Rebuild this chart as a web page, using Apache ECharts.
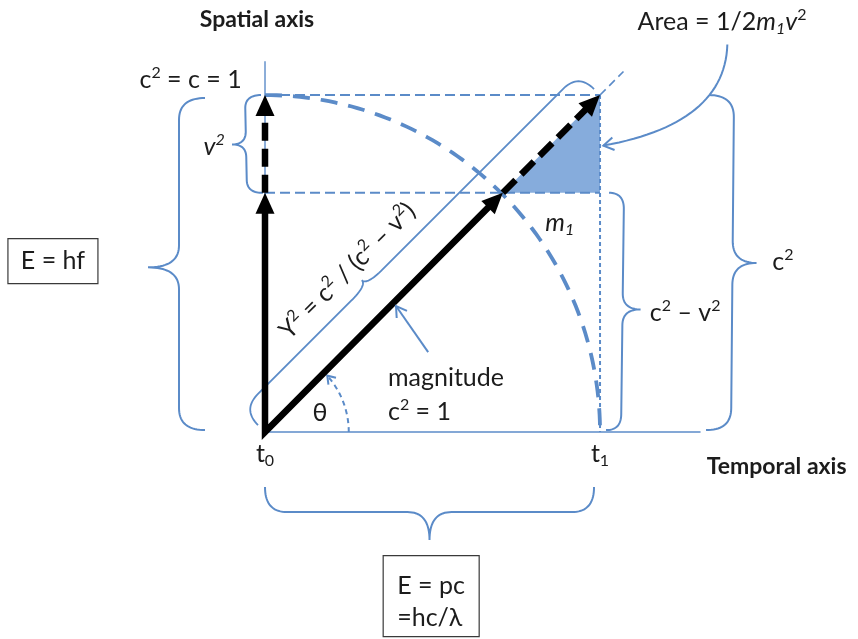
<!DOCTYPE html>
<html><head><meta charset="utf-8">
<script src="https://cdn.jsdelivr.net/npm/echarts@6/dist/echarts.min.js"></script>
<style>html,body{margin:0;padding:0;background:#fff}#main{width:858px;height:639px}</style>
</head><body><div id="main"></div>
<script>
// ---------------- diagram values (units: c = c² = 1) ----------------
const c2 = 1;                       // magnitude c² = c = 1
const v2 = 0.29;                    // v² (spatial share)
const tickValues = [0, 1];          // t0, t1 on the temporal axis
const tickLabels = ['t₀', 't₁'];
const axisTitles = ['Temporal axis', 'Spatial axis'];
const thetaRadius = 0.25;           // radius of the θ arc
const thetaAngle = 42;              // degrees swept by the θ arc

// ---------------- styling ----------------
const BLUE = '#5b8bc8';
const FILL = '#86acdc';
const INK = '#1c1c1c';
const FONT = 'Lato, "Noto Sans", "DejaVu Sans", sans-serif';
const level = c2 - v2;              // c² − v²

function line(a, b, s) {
  return { type: 'line', shape: { x1: a[0], y1: a[1], x2: b[0], y2: b[1] },
    style: Object.assign({ stroke: BLUE, lineWidth: 1.5, fill: 'none' }, s) };
}
function poly(pts, s) {
  return { type: 'polyline', shape: { points: pts },
    style: Object.assign({ stroke: BLUE, lineWidth: 2, fill: 'none' }, s) };
}
function quad(p0, c, p1, n) {
  n = n || 18; const out = [];
  for (let i = 1; i <= n; i++) {
    const t = i / n, a = (1 - t) * (1 - t), b = 2 * (1 - t) * t, d = t * t;
    out.push([a * p0[0] + b * c[0] + d * p1[0], a * p0[1] + b * c[1] + d * p1[1]]);
  }
  return out;
}
function brace(A, B, hint, d, tip, tf, q) {
  const dx = B[0] - A[0], dy = B[1] - A[1], L = Math.hypot(dx, dy), u = [dx / L, dy / L];
  let n = [-u[1], u[0]]; if (n[0] * hint[0] + n[1] * hint[1] < 0) n = [-n[0], -n[1]];
  const at = (s, k) => [A[0] + u[0] * s + n[0] * k, A[1] + u[1] * s + n[1] * k];
  const m = tf * L;
  const pts = [A];
  pts.push(...quad(A, at(0, d), at(q, d)));
  pts.push(at(m - q, d));
  pts.push(...quad(at(m - q, d), at(m, d), at(m, d + tip)));
  pts.push(...quad(at(m, d + tip), at(m, d), at(m + q, d)));
  pts.push(at(L - q, d));
  pts.push(...quad(at(L - q, d), at(L, d), B));
  return pts;
}
function openHead(tip, dir, len, ang, s) {
  const L = Math.hypot(dir[0], dir[1]), u = [dir[0] / L, dir[1] / L];
  const r = (v, a) => [v[0] * Math.cos(a) - v[1] * Math.sin(a), v[0] * Math.sin(a) + v[1] * Math.cos(a)];
  const a1 = r(u, ang), a2 = r(u, -ang);
  return poly([[tip[0] - a1[0] * len, tip[1] - a1[1] * len], tip, [tip[0] - a2[0] * len, tip[1] - a2[1] * len]], s);
}
function solidHead(a, b, hl, hw) {
  const dx = b[0] - a[0], dy = b[1] - a[1], L = Math.hypot(dx, dy), u = [dx / L, dy / L], n = [-u[1], u[0]];
  const base = [b[0] - u[0] * hl, b[1] - u[1] * hl];
  return { type: 'polygon', shape: { points: [b, [base[0] + n[0] * hw / 2, base[1] + n[1] * hw / 2], [base[0] - n[0] * hw / 2, base[1] - n[1] * hw / 2]] },
    style: { fill: '#000', stroke: 'none' } };
}
function back(a, b, k) {
  const dx = b[0] - a[0], dy = b[1] - a[1], L = Math.hypot(dx, dy);
  return [b[0] - dx / L * k, b[1] - dy / L * k];
}

// rich-text markup: ² → superscript, ₀ ₁ → subscript, *...* → italic
const SUP = { '²': '2' }, SUB = { '₀': '0', '₁': '1' };
function markup(str, size, bold, italic) {
  const toks = []; let it = !!italic, cur = '', kind = 'n';
  const flush = () => { if (cur) { toks.push('{' + kind + (it ? 'i' : '') + '|' + cur + '}'); cur = ''; } };
  for (const ch of str) {
    if (ch === '*') { flush(); it = !it; continue; }
    let k = 'n', c = ch;
    if (SUP[ch]) { k = 'p'; c = SUP[ch]; } else if (SUB[ch]) { k = 'b'; c = SUB[ch]; }
    if (k !== kind) { flush(); kind = k; }
    cur += c;
  }
  flush();
  const small = Math.round(size * 0.64), lh = Math.round(size * 1.2);
  const rich = {};
  ['n', 'p', 'b'].forEach(k => [false, true].forEach(i => {
    rich[k + (i ? 'i' : '')] = {
      fontSize: k === 'n' ? size : small, lineHeight: k === 'n' ? lh : small + 1,
      fontFamily: FONT, fontWeight: bold ? 'bold' : 'normal', fontStyle: i ? 'italic' : 'normal',
      fill: INK, verticalAlign: k === 'p' ? 'top' : (k === 'b' ? 'bottom' : 'middle')
    };
  }));
  return { text: toks.join(''), rich };
}
function txt(p, str, o) {
  o = o || {};
  const size = o.size || 25;
  const m = markup(str, size, o.bold, o.italic);
  return { type: 'text', x: p[0], y: p[1], rotation: o.rot || 0,
    style: { text: m.text, rich: m.rich, fill: INK, fontSize: size, fontFamily: FONT,
      fontWeight: o.bold ? 'bold' : 'normal', align: o.align || 'center', verticalAlign: 'middle' } };
}
function box(center, w, h) {
  return { type: 'rect', shape: { x: center[0] - w / 2, y: center[1] - h / 2, width: w, height: h },
    style: { fill: '#fff', stroke: '#3a3a3a', lineWidth: 1.2 } };
}

// ---------- guides: axes, dashed projections, arc, shaded triangle ----------
function renderGuides(params, api) {
  const C = (x, y) => api.coord([x, y]);
  const ch = [];
  ch.push({ type: 'polygon', shape: { points: [C(level, level), C(c2, level), C(c2, c2)] },
    style: { fill: FILL, stroke: 'none' } });
  ch.push(line(C(0, 0), C(1.30, 0), { lineWidth: 1.6 }));
  ch.push(line(C(0, 0), C(0, 1.10), { lineWidth: 1.4 }));
  ch.push(line(C(0, c2), C(c2, c2), { lineWidth: 2, lineDash: [10, 5] }));
  ch.push(line(C(0, level), C(c2, level), { lineWidth: 2, lineDash: [10, 5] }));
  ch.push(line(C(c2, c2), C(c2, 0), { lineWidth: 2, lineDash: [4, 3] }));
  ch.push(line(C(c2, c2), C(1.07, 1.07), { lineWidth: 1.6, lineDash: [8, 5] }));
  // quarter circle of radius c² (magnitude)
  const arc = [];
  for (let i = 0; i <= 90; i++) { const a = (90 - i) * Math.PI / 180; arc.push(C(c2 * Math.cos(a), c2 * Math.sin(a))); }
  ch.push(poly(arc, { lineWidth: 3.8, lineDash: [17, 11] }));
  // θ arc
  const th = [];
  for (let i = 0; i <= thetaAngle; i++) { const a = i * Math.PI / 180; th.push(C(thetaRadius * Math.cos(a), thetaRadius * Math.sin(a))); }
  ch.push(poly(th, { lineWidth: 2, lineDash: [5, 4] }));
  const tA = thetaAngle * Math.PI / 180;
  ch.push(openHead(th[th.length - 1], [-Math.sin(tA), -Math.cos(tA)], 9, 0.6, { lineWidth: 2 }));
  return { type: 'group', children: ch };
}

// ---------- curly braces ----------
function renderBraces(params, api) {
  const C = (x, y) => api.coord([x, y]);
  const off = (p, dx, dy) => [p[0] + dx, p[1] + dy];
  const ch = [];
  ch.push(poly(brace(off(C(0, c2), -60, 3), off(C(0, 0), -60, -2), [-1, 0], 26, 31, 0.51, 22)));
  ch.push(poly(brace(off(C(0, c2), -4, 0), off(C(0, level), -2, 0), [-1, 0], 16, 14, 0.5, 13)));
  ch.push(poly(brace(off(C(c2, level), 9, 0), off(C(c2, 0), 6, -2), [1, 0], 15, 18, 0.49, 16)));
  ch.push(poly(brace(off(C(c2, c2), 109, 0), off(C(c2, 0), 106, -2), [1, 0], 25, 24, 0.5, 22)));
  ch.push(poly(brace(off(C(0, 0), 0, 55), off(C(c2, 0), -6, 55), [0, 1], 25, 28, 0.5, 22)));
  ch.push(poly(brace(off(C(0, 0), -7, -7), off(C(c2, c2), -6, -6), [-1, -1], 22, 7, 0.37, 22), { lineWidth: 1.8 }));
  return { type: 'group', children: ch };
}

// ---------- black vectors ----------
function renderVectors(params, api) {
  const C = (x, y) => api.coord([x, y]);
  const O = C(0, 0), V = C(0, level), D = C(level, level), T = C(0, c2), Q = C(c2, c2);
  const ch = [];
  ch.push(poly([back(O, V, 16), O, back(O, D, 16)], { stroke: '#000', lineWidth: 6.5, lineJoin: 'miter', miterLimit: 10 }));
  ch.push(line(V, back(V, T, 16), { stroke: '#000', lineWidth: 6.5, lineDash: [18, 8] }));
  ch.push(line(D, back(D, Q, 16), { stroke: '#000', lineWidth: 6.5, lineDash: [18, 8] }));
  ch.push(solidHead(O, V, 21, 19));
  ch.push(solidHead(O, D, 21, 19));
  ch.push(solidHead(V, T, 21, 19));
  ch.push(solidHead(D, Q, 21, 19));
  return { type: 'group', children: ch };
}

// ---------- pointer arrows ----------
function renderPointers(params, api) {
  const C = (x, y) => api.coord([x, y]);
  const ch = [];
  const s = C(1.38, 1.150), c = C(1.373, 0.915), e = C(1.01, 0.85);
  ch.push(poly([s].concat(quad(s, c, e, 30)), { lineWidth: 2 }));
  ch.push(openHead(e, [e[0] - c[0], e[1] - c[1]], 12, 0.55, { lineWidth: 2 }));
  const m0 = C(0.487, 0.237), m1 = C(0.391, 0.374);
  ch.push(line(m0, m1, { lineWidth: 2 }));
  ch.push(openHead(m1, [m1[0] - m0[0], m1[1] - m0[1]], 12, 0.55, { lineWidth: 2 }));
  return { type: 'group', children: ch };
}

// ---------- text and boxes ----------
function renderLabels(params, api) {
  const C = (x, y) => api.coord([x, y]);
  const ch = [];
  ch.push(txt(C(-0.024, 1.223), axisTitles[1], { bold: true, size: 23 }));
  ch.push(txt(C(1.527, -0.101), axisTitles[0], { bold: true, size: 23 }));
  tickValues.forEach((v, i) => ch.push(txt(C(v, -0.066), tickLabels[i])));
  ch.push(txt(C(-0.222, 1.045), 'c² = c = 1'));
  ch.push(txt(C(1.364, 1.217), 'Area = 1/2*m₁v*²'));
  ch.push(txt(C(-0.152, 0.846), 'v²', { italic: true }));
  ch.push(txt(C(0.880, 0.620), 'm₁', { italic: true }));
  ch.push(txt(C(0.246, 0.478), 'Y² = c² / (c² – v²)', { rot: Math.PI / 4 }));
  ch.push(txt(C(1.254, 0.353), 'c² – v²'));
  ch.push(txt(C(1.546, 0.504), 'c²'));
  ch.push(txt(C(0.367, 0.160), 'magnitude', { align: 'left' }));
  ch.push(txt(C(0.367, 0.059), 'c² = 1', { align: 'left' }));
  ch.push(txt(C(0.164, 0.056), 'θ'));
  ch.push(box(C(-0.633, 0.507), 90, 45));
  ch.push(txt(C(-0.633, 0.507), 'E = hf'));
  const bc = C(0.496, -0.487);
  ch.push(box(bc, 96, 81));
  ch.push(txt([bc[0] - 34, bc[1] - 10], 'E = pc', { align: 'left' }));
  ch.push(txt([bc[0] - 34, bc[1] + 22], '=hc/λ', { align: 'left' }));
  return { type: 'group', children: ch };
}

const chart = echarts.init(document.getElementById('main'));
const mk = (name, fn, z) => ({ type: 'custom', name, renderItem: fn, data: [[0, 0]], silent: true, z, clip: false });
chart.setOption({
  animation: false,
  backgroundColor: '#fff',
  grid: { left: 0, right: 0, top: 0, bottom: 0 },
  xAxis: { type: 'value', min: -0.791, max: 1.770, show: false },
  yAxis: { type: 'value', min: -0.614, max: 1.282, show: false },
  series: [
    mk('guides', renderGuides, 1),
    mk('braces', renderBraces, 2),
    mk('vectors', renderVectors, 3),
    mk('pointers', renderPointers, 4),
    mk('labels', renderLabels, 5)
  ]
});
</script></body></html>
